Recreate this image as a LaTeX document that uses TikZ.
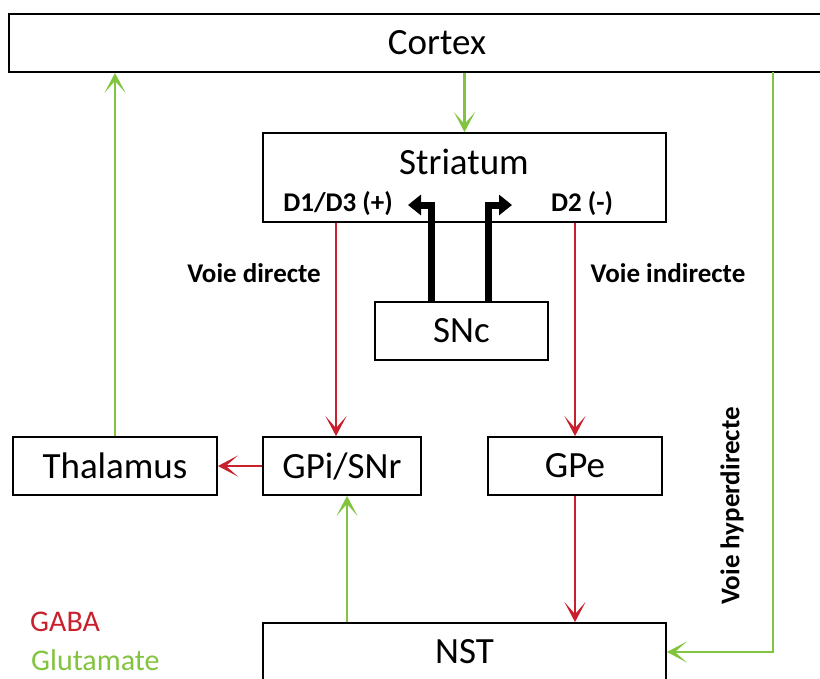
\documentclass[tikz,border=0pt]{standalone}
\usepackage{fontspec}
\setmainfont{Carlito}
\usetikzlibrary{arrows.meta}
\definecolor{gabared}{RGB}{200,32,44}
\definecolor{glutgreen}{RGB}{130,196,64}
\tikzstyle{bgbox}=[rectangle, draw, line width=1.8pt, inner sep=0pt, font=\fontsize{37}{42}\selectfont]
\tikzstyle{bgtext}=[inner sep=0pt, font=\fontsize{37}{42}\selectfont]
\tikzstyle{bglabel}=[inner sep=0pt, font=\fontsize{27}{32}\selectfont\bfseries]
\tikzstyle{bgred}=[draw=gabared, line width=2.8pt, -{Stealth[length=20pt,width=21pt,inset=12pt]}]
\tikzstyle{bggreen}=[draw=glutgreen, line width=2.8pt, -{Stealth[length=20pt,width=21pt,inset=12pt]}]
\tikzstyle{bgdopa}=[draw=black, line width=7pt, line join=miter, -{Triangle[length=13pt,width=20pt]}]
\newcommand{\bgbox}[5]{
	\node[bgbox, minimum width=#3, minimum height=#4] (#1) at (#2) {#5};}

\begin{document}
\begin{tikzpicture}[x=1pt, y=-1pt]
	\clip (0,0) rectangle (820,678);
	\bgbox{cortex}{437,43}{856pt}{58pt}{Cortex}
	\bgbox{striatum}{464.5,177.5}{403pt}{89pt}{}
	\node[bgtext] (striatumtext) at (464,162) {Striatum};
	\node[bglabel] (d1) at (338,204) {D1/D3 (+)};
	\node[bglabel] (d2) at (582,204) {D2 (-)};
	\bgbox{snc}{461.5,331}{173pt}{58pt}{SNc}
	
	\bgbox{thalamus}{115,466}{204pt}{58pt}{Thalamus}
	\bgbox{gpi}{342,466}{158pt}{58pt}{GPi/SNr}
	\bgbox{gpe}{575,466}{174pt}{58pt}{GPe}
	\bgbox{nst}{464.5,652}{403pt}{58pt}{NST}
	
	\coordinate (d1tip) at (408,205);
	\coordinate (d2tip) at (512,205);
	\coordinate (hyper) at (773,72);
	
	\node[bglabel] (directe) at (254,273) {Voie directe};
	\node[bglabel] (indirecte) at (668,273) {Voie indirecte};
	\node[bglabel, rotate=90] (hyperdirecte) at (732,506) {Voie hyperdirecte};
	
	\node[inner sep=0pt, anchor=west, text=gabared, font=\fontsize{30}{34}\selectfont] (gaba) at (30,622) {GABA};
	\node[inner sep=0pt, anchor=west, text=glutgreen, font=\fontsize{30}{34}\selectfont] (glutamate) at (31,660) {Glutamate};
	
	\draw[bggreen] (striatum.north |- cortex.south) -- (striatum.north);
	\draw[bggreen] (thalamus.north) -- (thalamus.north |- cortex.south);
	\draw[bggreen] (hyper) |- (nst.east);
	\draw[bgred] (striatum.south -| 336,0) -- (gpi.north -| 336,0);
	\draw[bgred] (striatum.south -| gpe.north) -- (gpe.north);
	\draw[bgred] (gpi.west) -- (thalamus.east);
	\draw[bgred] (gpe.south) -- (nst.north -| gpe.south);
	\draw[bggreen] (nst.north -| 347,0) -- (gpi.south -| 347,0);
	\draw[bgdopa] ([xshift=-30pt]snc.north) |- (d1tip);
	\draw[bgdopa] ([xshift=27pt]snc.north) |- (d2tip);
\end{tikzpicture}
\end{document}
